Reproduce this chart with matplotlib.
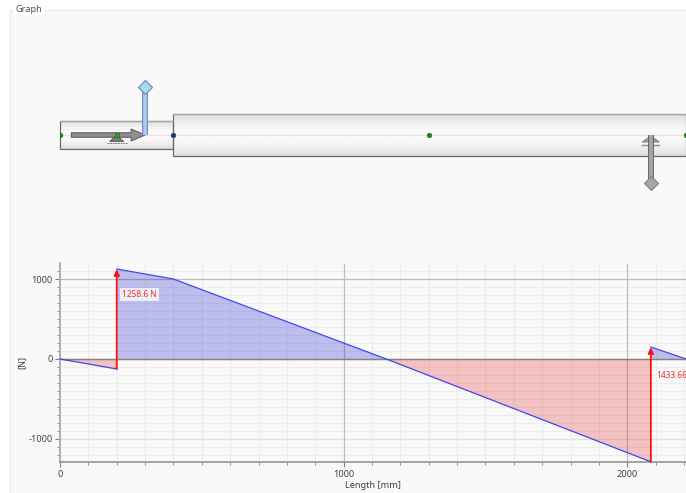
import numpy as np
import matplotlib
matplotlib.use("Agg")
import matplotlib.pyplot as plt
from matplotlib.patches import Rectangle, Polygon
from matplotlib.ticker import MultipleLocator

# --- data -------------------------------------------------------------
length_mm = [0, 200, 200, 400, 1150, 2083, 2083, 2207]
shear_n = [0, -125, 1125, 1000, 0, -1285, 150, 0]
reaction_x = [200, 2083]
reaction_top = [1125, 150]
reaction_bottom = [-125, -1285]
reaction_labels = ["1258.6 N", "1433.66"]
x_ticks = [0, 1000, 2000]
y_ticks = [-1000, 0, 1000]
x_label = "Length [mm]"
y_label = "[N]"
panel_title = "Graph"
shaft_start = [0, 400]
shaft_end = [400, 2207]
shaft_radius = [14, 21]
node_x = [0, 400, 1300, 2207]
node_colors = ["#1f8a1f", "#123a8a", "#1f8a1f", "#1f8a1f"]

W, H = 686, 493
BG = "#f9f9f9"
plt.rcParams["font.family"] = ["Noto Sans", "DejaVu Sans"]
plt.rcParams["axes.unicode_minus"] = False
fig = plt.figure(figsize=(W / 100, H / 100), dpi=100, facecolor="white")


def axes_px(x0, y0, x1, y1, **kw):
    return fig.add_axes([x0 / W, 1 - y1 / H, (x1 - x0) / W, (y1 - y0) / H], **kw)


# --- panel ------------------------------------------------------------
panel = axes_px(0, 0, W, H, facecolor="white")
panel.set_xlim(0, W)
panel.set_ylim(H, 0)
panel.axis("off")
panel.add_patch(Rectangle((10, 10), W, H, fc=BG, ec="#ebebeb", lw=1))
panel.text(15.5, 9.5, panel_title, fontsize=6.6, color="#505050", va="center",
           ha="left", bbox=dict(fc="white", ec="none", pad=1.0))

# --- shaft diagram ----------------------------------------------------
xlim = (0, 2207)
diag = axes_px(60, 11, 686, 259)
diag.patch.set_alpha(0)
diag.axis("off")
grad = (0.85 + 0.13 * np.sin(np.linspace(0.0, np.pi, 64)) ** 0.7)[:, None]
for a, b, r in zip(shaft_start, shaft_end, shaft_radius):
    diag.imshow(grad, extent=(a, b, r, -r), cmap="gray", vmin=0.0, vmax=1.0,
                aspect="auto", zorder=1)
    diag.add_patch(Rectangle((a, -r), b - a, 2 * r, fc="none", ec="#666666",
                             lw=0.85, zorder=2, clip_on=False))
    diag.plot([a, b], [-r, -r], color="#a8a8a8", lw=0.9, zorder=2.5)
diag.set_xlim(*xlim)
diag.set_ylim(124, -124)
diag.plot(xlim, [0, 0], color="#f8bccb", lw=0.9, ls=(0, (1, 1)), zorder=3)

# axial force arrow
diag.annotate("", xy=(300, 0), xytext=(40, 0), zorder=4,
              arrowprops=dict(arrowstyle="simple,head_length=1.0,head_width=0.85,tail_width=0.32",
                              fc="#8f8f8f", ec="#606060", lw=0.8, shrinkA=0, shrinkB=0))
# bearings
diag.add_patch(Polygon([(200, 0), (175, 6.5), (225, 6.5)], fc="#7c7c7c", ec="#555555", lw=0.6, zorder=5))
diag.plot([165, 235], [7.5, 7.5], color="#555555", lw=0.6, ls=(0, (2, 1.2)), zorder=5)
diag.plot([200], [0], marker="s", ms=3.2, color="#22aa22", mec="#116611", mew=0.4, zorder=6)
diag.add_patch(Polygon([(2083, 1), (2053, 7), (2113, 7)], fc="#a0a0a0", ec="#777777", lw=0.6, zorder=4))
diag.plot([2053, 2113], [10, 10], color="#8c8c8c", lw=1.0, zorder=4)

# pins
diag.plot([300, 300], [0, -47], color="#6a84c8", lw=4.2, solid_capstyle="butt", zorder=6)
diag.plot([300, 300], [0, -47], color="#aecbea", lw=2.6, solid_capstyle="butt", zorder=7)
diag.plot([300], [-48], marker="D", ms=6.8, color="#add8e6", mec="#6a84c8", mew=0.8, zorder=8)
diag.plot([2083, 2083], [0, 47], color="#606060", lw=4.2, solid_capstyle="butt", zorder=6)
diag.plot([2083, 2083], [0, 47], color="#a6a6a6", lw=2.8, solid_capstyle="butt", zorder=7)
diag.plot([2083], [48], marker="D", ms=6.8, color="#a6a6a6", mec="#808080", mew=0.8, zorder=8)

for nx, nc in zip(node_x, node_colors):
    diag.plot([nx], [0], marker="o", ms=3.4, color=nc, mec="#0e4a0e", mew=0.3,
              zorder=9, clip_on=nx in (0, 2207))

# --- shear chart ------------------------------------------------------
ax = axes_px(60, 263.5, 686, 462, facecolor="none")
ax.set_xlim(*xlim)
ax.set_ylim(-1288, 1194)
ax.xaxis.set_major_locator(plt.FixedLocator(x_ticks))
ax.yaxis.set_major_locator(plt.FixedLocator(y_ticks))
ax.xaxis.set_minor_locator(MultipleLocator(100))
ax.yaxis.set_minor_locator(MultipleLocator(100))
ax.grid(which="minor", color="#ececec", lw=0.8)
ax.yaxis.grid(which="major", color="#bdbdbd", lw=0.9)
ax.get_ygridlines()[0].set_color("#e0e0e0")
ax.set_axisbelow(True)
for tick in x_ticks[1:]:
    ax.axvline(tick, color="#bdbdbd", lw=0.9, zorder=0.9)
for s in ("top", "right"):
    ax.spines[s].set_visible(False)
ax.spines["left"].set_color("#aaaaaa")
ax.spines["left"].set_linewidth(1.3)
ax.spines["bottom"].set_color("#8a8a8a")
ax.spines["bottom"].set_linewidth(1.1)
ax.tick_params(which="major", length=3.5, width=0.8, color="#808080", labelsize=6.6,
               labelcolor="#404040", pad=2)
ax.tick_params(which="minor", length=2.2, width=0.7, color="#909090")

xs = np.array(length_mm, float)
ys = np.array(shear_n, float)
ax.fill_between(xs[:2], ys[:2], 0, color="#dd0000", alpha=0.22, lw=0)
ax.fill_between(xs[2:5], ys[2:5], 0, color="#0000cc", alpha=0.24, lw=0)
ax.fill_between(xs[4:6], ys[4:6], 0, color="#dd0000", alpha=0.22, lw=0)
ax.fill_between(xs[6:8], ys[6:8], 0, color="#0000cc", alpha=0.24, lw=0)
ax.axhline(0, color="#8c7f7f", lw=1.0, zorder=2)
for i, j in ((0, 2), (2, 6), (6, 8)):
    ax.plot(xs[i:j], ys[i:j], color="#4444ee", lw=0.9, zorder=3, clip_on=False)

for rx, top, bot, lab, lift, box in zip(reaction_x, reaction_top, reaction_bottom,
                                        reaction_labels, (805, -205), (True, False)):
    ax.annotate("", xy=(rx, top), xytext=(rx, bot), zorder=5,
                arrowprops=dict(arrowstyle="-|>,head_length=0.35,head_width=0.16",
                                color="#ff1010", lw=1.3, shrinkA=0, shrinkB=0))
    ax.text(rx + 20, lift, lab, color="#f03030", fontsize=6.0, va="center", ha="left",
            zorder=6, bbox=dict(fc="#eeeef4", ec="none", pad=1.5) if box else None)

ax.set_xlabel(x_label, fontsize=6.6, color="#404040", labelpad=2)
ax.set_ylabel(y_label, fontsize=6.6, color="#404040", labelpad=1)

fig.savefig("out.png", dpi=100, facecolor="white")
